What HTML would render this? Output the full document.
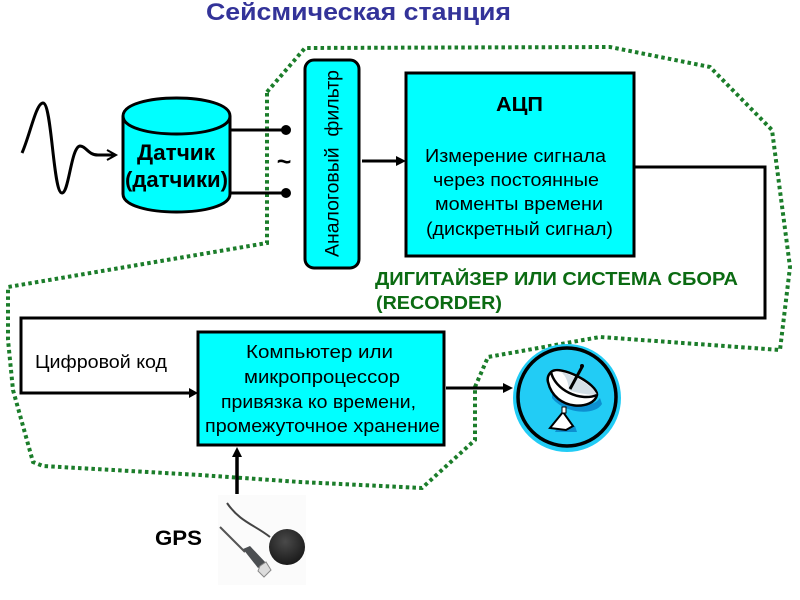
<!DOCTYPE html>
<html><head><meta charset="utf-8"><style>
html,body{margin:0;padding:0;background:#fff}
svg{display:block}
text{font-family:"Liberation Sans",sans-serif;white-space:pre}
</style></head><body>
<svg width="800" height="600" viewBox="0 0 800 600" xmlns="http://www.w3.org/2000/svg">
<defs><radialGradient id="g" cx="0.45" cy="0.35" r="0.7"><stop offset="0" stop-color="#4a4a4a"/><stop offset="1" stop-color="#161616"/></radialGradient></defs>
<rect width="800" height="600" fill="#fff"/>
<text x="206" y="20" font-size="24" font-weight="bold" fill="#333399" textLength="305" lengthAdjust="spacingAndGlyphs">Сейсмическая станция</text>

<polyline points="267,92 305,48 610,47 710,67 772,130 790,267 780,350 600,337 488,357 475,387 475,440 422,488 300,482 200,475 43,466 33,462 13,390 8,340 8,287 267,243 267,92" fill="none" stroke="#1b7d2a" stroke-width="4" stroke-dasharray="3.500 3.200"/>

<path d="M22,153 C30,135 36,103 43,103 C52,103 53,193 62,193 C69,193 71,147 80,146 C86,146 88,155 98,155 L114,155" fill="none" stroke="#000" stroke-width="3"/>
<path d="M107,150 L116,155 L107,160" fill="none" stroke="#000" stroke-width="2"/>

<path d="M123,116 C123,92 230,92 230,116 V194 C230,218 123,218 123,194 Z" fill="#00ffff" stroke="#000" stroke-width="3"/>
<path d="M123,116 C123,140 230,140 230,116" fill="none" stroke="#000" stroke-width="3"/>
<text x="137" y="160" font-size="22" font-weight="bold" textLength="78" lengthAdjust="spacingAndGlyphs">Датчик</text>
<text x="125" y="187" font-size="22" font-weight="bold" textLength="103" lengthAdjust="spacingAndGlyphs">(датчики)</text>

<line x1="231" y1="130" x2="286" y2="130" stroke="#000" stroke-width="3"/>
<line x1="231" y1="193" x2="286" y2="193" stroke="#000" stroke-width="3"/>
<circle cx="286" cy="130" r="5" fill="#000"/>
<circle cx="286" cy="193" r="5" fill="#000"/>
<text x="284" y="170" text-anchor="middle" font-size="25" font-weight="bold">~</text>

<rect x="305" y="60" width="54" height="208" rx="9" fill="#00ffff" stroke="#000" stroke-width="3"/>
<text transform="translate(338.500,257) rotate(-90)" font-size="19.500" textLength="187" lengthAdjust="spacingAndGlyphs">Аналоговый  фильтр</text>

<line x1="362" y1="161" x2="398" y2="161" stroke="#000" stroke-width="3"/>
<path d="M396,156 L406,161 L396,166 Z" fill="#000"/>

<rect x="406" y="73" width="228" height="183" fill="#00ffff" stroke="#000" stroke-width="3"/>
<text x="496" y="111" font-size="20" font-weight="bold" textLength="47" lengthAdjust="spacingAndGlyphs">АЦП</text>
<text x="425" y="162" font-size="18" textLength="181" lengthAdjust="spacingAndGlyphs">Измерение сигнала</text>
<text x="433" y="186" font-size="18" textLength="166" lengthAdjust="spacingAndGlyphs">через постоянные</text>
<text x="435" y="210" font-size="18" textLength="168" lengthAdjust="spacingAndGlyphs">моменты времени</text>
<text x="426" y="235" font-size="18" textLength="187" lengthAdjust="spacingAndGlyphs">(дискретный сигнал)</text>

<polyline points="635,167 765,167 765,318 21,318 21,393 190,393" fill="none" stroke="#000" stroke-width="3"/>
<path d="M189,388 L198,393 L189,398 Z" fill="#000"/>

<text x="375" y="285" font-size="18.500" font-weight="bold" fill="#0b6b12" textLength="363" lengthAdjust="spacingAndGlyphs">ДИГИТАЙЗЕР ИЛИ СИСТЕМА СБОРА</text>
<text x="376" y="309" font-size="18.500" font-weight="bold" fill="#0b6b12" textLength="126" lengthAdjust="spacingAndGlyphs">(RECORDER)</text>

<text x="35" y="368" font-size="18" textLength="132" lengthAdjust="spacingAndGlyphs">Цифровой код</text>

<rect x="198" y="332" width="246" height="113" fill="#00ffff" stroke="#000" stroke-width="3"/>
<text x="246" y="358" font-size="18" textLength="147" lengthAdjust="spacingAndGlyphs">Компьютер или</text>
<text x="244" y="383" font-size="18" textLength="156" lengthAdjust="spacingAndGlyphs">микропроцессор</text>
<text x="221" y="408" font-size="18" textLength="195" lengthAdjust="spacingAndGlyphs">привязка ко времени,</text>
<text x="205" y="432" font-size="18" textLength="235" lengthAdjust="spacingAndGlyphs">промежуточное хранение</text>

<line x1="446" y1="388" x2="504" y2="388" stroke="#000" stroke-width="3"/>
<path d="M503,383 L513,388 L503,393 Z" fill="#000"/>

<line x1="237" y1="494" x2="237" y2="456" stroke="#000" stroke-width="3.500"/>
<path d="M232,457 L237,447 L242,457 Z" fill="#000"/>

<circle cx="567" cy="398" r="54" fill="#22ccf5"/>
<circle cx="567" cy="397" r="49" fill="#22ccf5" stroke="#000" stroke-width="3.500"/>
<path d="M552,383 C558,404 590,412 600,398 L602,404 C595,416 565,414 552,398 Z" fill="#0d8fd0"/>
<path d="M551,372 C560,364 598,384 597,395 C594,410 555,412 548,382 C547,378 548,375 551,372 Z" fill="#fff" stroke="#000" stroke-width="2.500"/>
<path d="M553,372 C562,368 568,378 569,390 C575,393 590,395 597,395 C594,385 562,368 553,372 Z" fill="#d4dfe6"/>
<path d="M551,372 C555,390 580,402 597,395" fill="none" stroke="#000" stroke-width="2.500"/>
<line x1="570" y1="389" x2="582" y2="367" stroke="#000" stroke-width="3"/>
<circle cx="582" cy="366" r="2" fill="#000"/>
<path d="M555,432 L577,432 L575,426 L556,430 Z" fill="#0d8fd0"/>
<path d="M563,412 L550,428 L566,430 L573,426 Z" fill="#fff" stroke="#000" stroke-width="2"/>
<rect x="562" y="407" width="4" height="6" fill="#fff" stroke="#000" stroke-width="1"/>

<text x="155" y="545" font-size="21" font-weight="bold" textLength="47" lengthAdjust="spacingAndGlyphs">GPS</text>

<rect x="218" y="495" width="88" height="90" fill="#fbfbfb"/>
<path d="M227,503 C240,522 255,525 270,537" fill="none" stroke="#444" stroke-width="2"/>
<path d="M220,527 L245,552" stroke="#555" stroke-width="2"/>
<path d="M243,549 L250,546 L266,563 L258,568 Z" fill="#4c4f52"/>
<path d="M260,566 L266,562 L271,570 L264,577 L258,571 Z" fill="#ddd" stroke="#888"/>
<ellipse cx="287" cy="547" rx="18" ry="18" fill="url(#g)"/>
</svg>
</body></html>
